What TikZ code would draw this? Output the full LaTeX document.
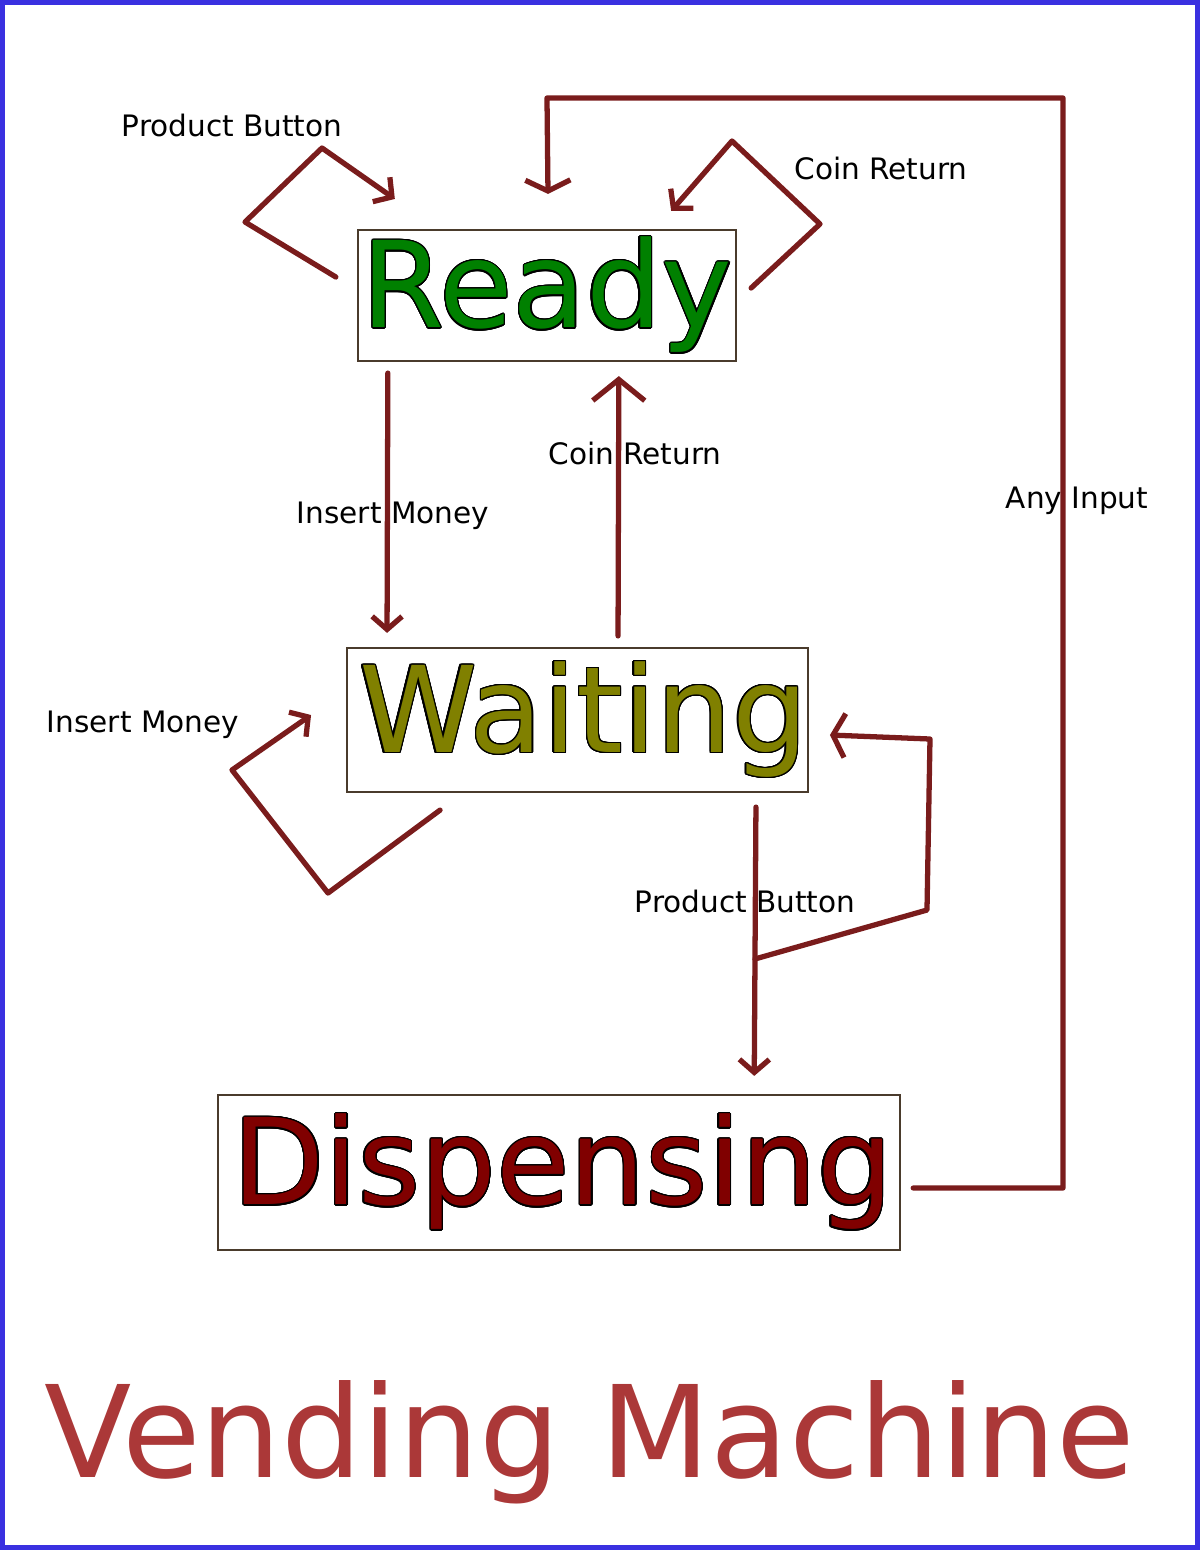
\documentclass[tikz,border=0pt]{standalone}
\usepackage{fontspec}
\setmainfont{DejaVu Sans}
\usepackage{contour}
\contourlength{0.35pt}
\contournumber{24}
\usetikzlibrary{arrows.meta, positioning}
\definecolor{flowred}{HTML}{7A1C1C}
\definecolor{boxbrown}{HTML}{4A3B2C}
\definecolor{frameblue}{HTML}{3A30E0}
\definecolor{readygreen}{HTML}{008000}
\definecolor{waitolive}{HTML}{808000}
\definecolor{dispred}{HTML}{800000}
\definecolor{titlered}{HTML}{AB3838}
\newcommand{\statetext}[2]{\contour{black}{\textcolor{#1}{#2}}}

\begin{document}
\begin{tikzpicture}[x=0.01cm, y=-0.01cm,
  flow/.style={draw=flowred, line width=1.5pt, line cap=round, line join=round},
  tip/.style={-{Straight Barb[length=3.7pt, width=8.5pt]}},
  statebox/.style={draw=boxbrown, line width=0.6pt, inner sep=0pt, font=\fontsize{34}{36}\selectfont},
  lbl/.style={anchor=base, font=\fontsize{8.4}{10}\selectfont}]
\useasboundingbox (0,0) rectangle (1200,1550);
\draw[frameblue, line width=1.45pt] (2.5,2.5) rectangle (1197.5,1547.5);

% states
\node[statebox, minimum width=3.78cm, minimum height=1.31cm] (ready) at (547,295.5) {\statetext{readygreen}{Ready}};
\node[statebox, minimum width=4.59cm, minimum height=1.44cm] (waiting) at (577.5,720) {\hspace{3.4pt}\raisebox{3.6pt}{\statetext{waitolive}{Waiting}}};
\node[statebox, minimum width=6.82cm, minimum height=1.55cm] (dispensing) at (559,1172.5) {\hspace{2.2pt}\raisebox{-1.1pt}{\statetext{dispred}{Dispensing}}};

% labels
\node[lbl] (pbReady) at (232,136) {Product Button};
\node[lbl] (crReady) at (881,179) {Coin Return};
\node[lbl] (crWait) at (635,464) {Coin Return};
\node[lbl] (imReady) at (393,523) {Insert Money};
\node[lbl] (anyIn) at (1077,508) {Any Input};
\node[lbl] (imWait) at (143,732) {Insert Money};
\node[lbl] (pbWait) at (745,912) {Product Button};

% transitions
\draw[flow,tip] ([shift={(-21,-18.5)}]ready.west) -- (245,222) -- (322,148) -- ([shift={(38,-30)}]ready.north west);
\draw[flow,tip] ([shift={(14,-7.5)}]ready.east) -- (820,224) -- (732,141) -- ([shift={(-66,-18)}]ready.north east);
\draw[flow,tip] ([shift={(31,11)}]ready.south west) -- ([shift={(41,-14)}]waiting.north west);
\draw[flow,-{Straight Barb[length=6pt, width=14.8pt]}] ([shift={(272,-11)}]waiting.north west) -- ([shift={(262,14)}]ready.south west);
\draw[flow,tip] ([shift={(94,17)}]waiting.south west) -- (328,893) -- (232,770) -- ([shift={(-35,-5)}]waiting.west);
\draw[flow,tip] ([shift={(-53,14)}]waiting.south east) -- coordinate[pos=0.565] (pbFork) ([shift={(-147,-18)}]dispensing.north east);
\draw[flow,-{Straight Barb[length=3.4pt, width=12.5pt]}] (pbFork) -- (927,910) -- (930,739) -- ([shift={(21,15)}]waiting.east);
\draw[flow,-{Straight Barb[length=3.1pt, width=12.8pt]}] ([shift={(12,15.5)}]dispensing.east) -- (1063,1188) -- (1063,98) -- (547,98) -- ([shift={(1,-35)}]ready.north);

% title
\node[anchor=base, text=titlered, font=\fontsize{36.3}{40}\selectfont] (title) at (590,1477) {Vending Machine};
\end{tikzpicture}
\end{document}
